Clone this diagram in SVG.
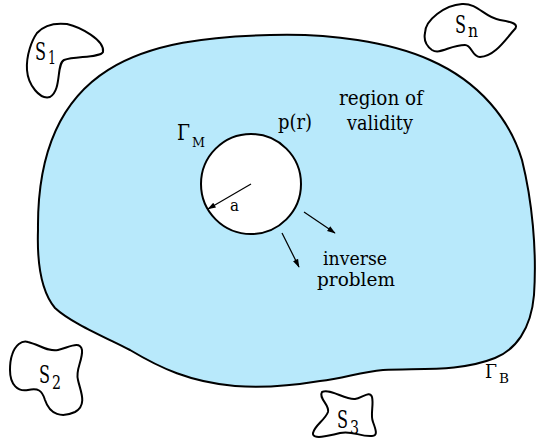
<svg xmlns="http://www.w3.org/2000/svg" width="536" height="443" viewBox="0 0 536 443">
<style>
.o{fill:none;stroke:#000;stroke-width:2;stroke-linejoin:round}
.l{stroke:#000;stroke-width:1.2;fill:none}
text{font-family:'DejaVu Serif',serif;fill:#000}
.b{font-size:24px}
.s{font-size:19px}
</style>
<defs>
<marker id="ah" viewBox="0 0 12 10" refX="11" refY="5" markerWidth="9" markerHeight="7" orient="auto" markerUnits="userSpaceOnUse">
<path d="M0,1 L12,5 L0,9 z" fill="#000"/>
</marker>
</defs>
<g id="region">
<path class="o" style="fill:#b8e9fb" d="M270,35 C330,33 390,42 430,60 C480,82 510,120 522,160 C532,200 537,250 534,295 C531,330 515,350 495,358 C460,372 420,368 383,370 C360,372 345,378 320,381 C290,386 260,388 235,386 C190,382 160,368 130,350 C100,335 70,322 55,308 C40,290 37,260 38,230 C36,60 150,38 270,35 Z"/>
<text x="339" y="105" font-size="20" textLength="84" lengthAdjust="spacingAndGlyphs">region of</text>
<text x="347" y="130" font-size="20" textLength="66" lengthAdjust="spacingAndGlyphs">validity</text>
<text><tspan x="485" y="378" font-size="18" textLength="12" lengthAdjust="spacingAndGlyphs">Γ</tspan><tspan x="499" y="383" font-size="12" textLength="10" lengthAdjust="spacingAndGlyphs">B</tspan></text>
</g>
<g id="circle">
<circle class="o" cx="251" cy="184" r="50" style="fill:#fff"/>
<text><tspan x="177" y="140" font-size="23" textLength="13" lengthAdjust="spacingAndGlyphs">Γ</tspan><tspan x="192" y="147" font-size="13" textLength="13" lengthAdjust="spacingAndGlyphs">M</tspan></text>
<text x="278" y="129" font-size="20" textLength="34" lengthAdjust="spacingAndGlyphs">p(r)</text>
<text x="230" y="211" font-size="16" textLength="9" lengthAdjust="spacingAndGlyphs">a</text>
</g>
<g id="inverse">
<text x="323" y="265" font-size="18.5" textLength="64" lengthAdjust="spacingAndGlyphs">inverse</text>
<text x="317" y="286" font-size="18.5" textLength="78" lengthAdjust="spacingAndGlyphs">problem</text>
</g>
<g id="S1">
<path class="o" d="M37,33 C45,24 58,23 67,24 C80,27 105,40 103,52 C100,58 75,56 64,60 C56,64 62,90 50,97 C40,100 28,85 27,70 C26,55 32,40 37,33 Z"/>
<text><tspan class="b" x="35" y="60" textLength="11" lengthAdjust="spacingAndGlyphs">S</tspan><tspan class="s" x="48" y="64" textLength="8" lengthAdjust="spacingAndGlyphs">1</tspan></text>
</g>
<g id="Sn">
<path class="o" d="M425,33 C425,20 445,5 462,4 C478,3 485,18 500,20 C512,22 520,24 514,30 C505,40 495,56 480,57 C472,57 472,45 465,45 C450,45 440,55 432,50 C425,45 424,38 425,33 Z"/>
<text><tspan class="b" x="455" y="33" textLength="11" lengthAdjust="spacingAndGlyphs">S</tspan><tspan class="s" x="468" y="37" textLength="10" lengthAdjust="spacingAndGlyphs">n</tspan></text>
</g>
<g id="S2">
<path class="o" d="M12,355 C15,345 22,340 28,342 C40,345 48,352 58,350 C68,348 80,340 82,350 C83,360 75,370 78,380 C80,390 88,405 75,412 C62,418 50,415 45,400 C42,390 38,388 28,390 C18,392 10,385 10,370 C10,362 11,358 12,355 Z"/>
<text><tspan class="b" x="39" y="383" textLength="11" lengthAdjust="spacingAndGlyphs">S</tspan><tspan class="s" x="52" y="389" textLength="9" lengthAdjust="spacingAndGlyphs">2</tspan></text>
</g>
<g id="S3">
<path class="o" d="M322,392 C330,388 345,400 355,399 C362,398 370,390 372,397 C374,405 370,415 373,422 C376,430 378,436 372,436 C360,437 352,430 340,433 C328,436 312,440 313,433 C315,425 325,420 328,412 C330,405 318,398 322,392 Z"/>
<text><tspan class="b" x="337" y="428" textLength="11" lengthAdjust="spacingAndGlyphs">S</tspan><tspan class="s" x="350" y="434" textLength="9" lengthAdjust="spacingAndGlyphs">3</tspan></text>
</g>
<g id="connectors">
<line class="l" x1="251" y1="184" x2="208" y2="209" marker-end="url(#ah)"/>
<line class="l" x1="304" y1="212" x2="335" y2="233" marker-end="url(#ah)"/>
<line class="l" x1="282" y1="233" x2="299" y2="267" marker-end="url(#ah)"/>
</g>
</svg>
